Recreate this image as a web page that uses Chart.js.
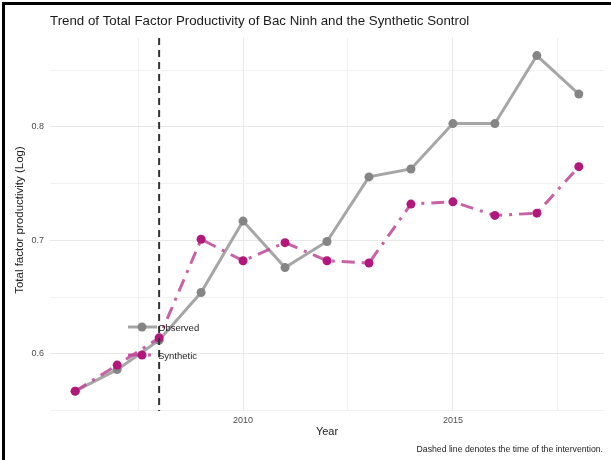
<!DOCTYPE html>
<html>
<head>
<meta charset="utf-8">
<script src="https://cdn.jsdelivr.net/npm/chart.js@4"></script>
<style>
  body { margin: 0; background: #fff; }
  canvas { display: block; }
</style>
</head>
<body>
<canvas id="tfpChart" width="611" height="460"></canvas>
<script>
// ========= Data =========
const years = [2006, 2007, 2008, 2009, 2010, 2011, 2012, 2013, 2014, 2015, 2016, 2017, 2018];
const observed = [0.567, 0.586, 0.612, 0.654, 0.717, 0.676, 0.699, 0.756, 0.763, 0.803, 0.803, 0.863, 0.829];
const synthetic = [0.567, 0.590, 0.614, 0.701, 0.682, 0.698, 0.682, 0.680, 0.732, 0.734, 0.722, 0.724, 0.765];
const interventionYear = 2008;
const xTicks = [2007.5, 2010, 2012.5, 2015, 2017.5];
const yTicks = [0.55, 0.6, 0.65, 0.7, 0.75, 0.8, 0.85];

const font = "'Liberation Sans', Arial, sans-serif";

// ========= Extra drawing: frame, titles, legend, intervention line =========
const decor = {
  id: 'decor',
  afterDatasetsDraw(chart) {
    const ctx = chart.ctx;
    const x = chart.scales.x;
    const area = chart.chartArea;
    const xi = x.getPixelForValue(interventionYear);
    ctx.save();
    ctx.strokeStyle = '#333';
    ctx.lineWidth = 2;
    ctx.setLineDash([7, 5]);
    ctx.beginPath();
    ctx.moveTo(xi, area.top);
    ctx.lineTo(xi, area.bottom);
    ctx.stroke();
    ctx.restore();
  },
  afterDraw(chart) {
    const ctx = chart.ctx;
    const area = chart.chartArea;
    ctx.save();
    // frame
    ctx.fillStyle = '#000';
    ctx.fillRect(2, 2, 609, 3);
    ctx.fillRect(2, 2, 3, 458);

    // title
    ctx.fillStyle = '#1a1a1a';
    ctx.font = '13.3px ' + font;
    ctx.textBaseline = 'middle';
    ctx.textAlign = 'left';
    ctx.fillText('Trend of Total Factor Productivity of Bac Ninh and the Synthetic Sontrol', area.left, 21);

    // axis titles
    ctx.fillStyle = '#222';
    ctx.font = '11px ' + font;
    ctx.textAlign = 'center';
    ctx.fillText('Year', (area.left + area.right) / 2, 432);
    ctx.save();
    ctx.translate(20, 220);
    ctx.rotate(-Math.PI / 2);
    ctx.font = '11.5px ' + font;
    ctx.fillText('Total factor productivity (Log)', 0, 0);
    ctx.restore();

    // caption
    ctx.font = '8.7px ' + font;
    ctx.textAlign = 'right';
    ctx.fillStyle = '#222';
    ctx.fillText('Dashed line denotes the time of the intervention.', 603, 450);

    // legend
    const items = chart.data.datasets.slice().sort((a, b) => b.order - a.order);
    items.forEach((ds, i) => {
      const cy = 327 + i * 28;
      ctx.save();
      ctx.strokeStyle = ds.borderColor;
      ctx.lineWidth = ds.borderWidth;
      ctx.setLineDash(ds.borderDash || []);
      ctx.beginPath();
      ctx.moveTo(128, cy);
      ctx.lineTo(157, cy);
      ctx.stroke();
      ctx.restore();
      ctx.fillStyle = ds.pointBackgroundColor;
      ctx.beginPath();
      ctx.arc(142, cy, ds.pointRadius, 0, Math.PI * 2);
      ctx.fill();
      ctx.fillStyle = '#222';
      ctx.font = '9.5px ' + font;
      ctx.textAlign = 'left';
      ctx.fillText(ds.label, 158, cy + 1);
    });
    ctx.restore();
  }
};

new Chart(document.getElementById('tfpChart').getContext('2d'), {
  type: 'line',
  data: {
    datasets: [
      {
        label: 'Observed',
        data: years.map((y, i) => ({ x: y, y: observed[i] })),
        borderColor: '#a6a6a6',
        borderWidth: 3,
        pointBackgroundColor: '#858585',
        pointBorderWidth: 0,
        pointRadius: 4.5,
        tension: 0,
        order: 1
      },
      {
        label: 'Synthetic',
        data: years.map((y, i) => ({ x: y, y: synthetic[i] })),
        borderColor: 'rgba(190, 70, 150, 0.85)',
        borderWidth: 3,
        borderDash: [13, 7, 3, 7],
        pointBackgroundColor: '#b3177c',
        pointBorderWidth: 0,
        pointRadius: 4.5,
        tension: 0,
        order: 0
      }
    ]
  },
  options: {
    responsive: false,
    animation: false,
    layout: { padding: { left: 0, right: 7, top: 38, bottom: 0 } },
    plugins: {
      legend: { display: false },
      tooltip: { enabled: false },
      title: { display: false }
    },
    scales: {
      x: {
        type: 'linear',
        min: 2005.4,
        max: 2018.6,
        afterFit: s => { s.height = 49; },
        afterBuildTicks: s => { s.ticks = xTicks.map(v => ({ value: v })); },
        border: { display: false },
        grid: {
          drawTicks: false,
          color: c => (c.tick && c.tick.value % 5 === 0) ? '#e8e8e8' : '#f1f1f1',
          lineWidth: 1
        },
        ticks: {
          padding: 4,
          color: '#4d4d4d',
          font: { family: font, size: 9 },
          callback: v => (v % 5 === 0 ? String(v) : '')
        }
      },
      y: {
        min: 0.5495,
        max: 0.8785,
        afterFit: s => { s.width = 50; },
        afterBuildTicks: s => { s.ticks = yTicks.map(v => ({ value: v })); },
        border: { display: false },
        grid: {
          drawTicks: false,
          color: c => (c.tick && Math.abs(c.tick.value * 10 - Math.round(c.tick.value * 10)) < 1e-6) ? '#e8e8e8' : '#f1f1f1',
          lineWidth: 1
        },
        ticks: {
          padding: 6,
          color: '#4d4d4d',
          font: { family: font, size: 9 },
          callback: v => (Math.abs(v * 10 - Math.round(v * 10)) < 1e-6 ? v.toFixed(1) : '')
        }
      }
    }
  },
  plugins: [decor]
});
</script>
</body>
</html>
